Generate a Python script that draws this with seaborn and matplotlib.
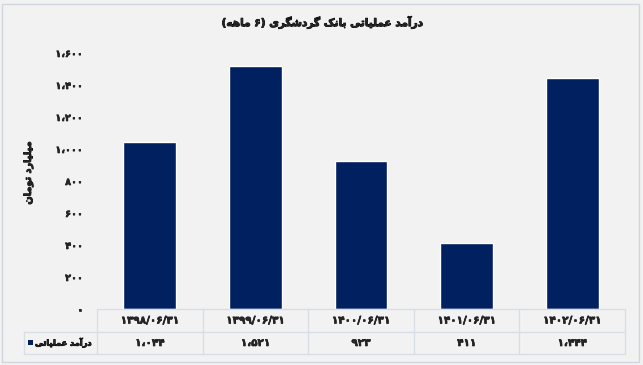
import numpy as np
import pandas as pd
import seaborn as sns
import matplotlib
matplotlib.use("Agg")
import matplotlib.pyplot as plt
import matplotlib.patheffects as pe
from matplotlib.patches import Rectangle
from matplotlib.lines import Line2D
from matplotlib.transforms import blended_transform_factory

# ---------------- data ----------------
categories = ["۱۳۹۸/۰۶/۳۱", "۱۳۹۹/۰۶/۳۱", "۱۴۰۰/۰۶/۳۱", "۱۴۰۱/۰۶/۳۱", "۱۴۰۲/۰۶/۳۱"]
values = [1044, 1521, 923, 411, 1444]
y_ticks = [0, 200, 400, 600, 800, 1000, 1200, 1400, 1600]
title_text = "درآمد عملیاتی بانک گردشگری (۶ ماهه)"
ylabel_text = "میلیارد تومان"
series_name = "درآمد عملیاتی"

# ---------------- helpers: Persian shaping for matplotlib ----------------
FORMS = {
    "ا": ("\uFE8D", "\uFE8E", None, None),
    "آ": ("\uFE81", "\uFE82", None, None),
    "ب": ("\uFE8F", "\uFE90", "\uFE91", "\uFE92"),
    "ت": ("\uFE95", "\uFE96", "\uFE97", "\uFE98"),
    "د": ("\uFEA9", "\uFEAA", None, None),
    "ر": ("\uFEAD", "\uFEAE", None, None),
    "ش": ("\uFEB5", "\uFEB6", "\uFEB7", "\uFEB8"),
    "ع": ("\uFEC9", "\uFECA", "\uFECB", "\uFECC"),
    "ل": ("\uFEDD", "\uFEDE", "\uFEDF", "\uFEE0"),
    "م": ("\uFEE1", "\uFEE2", "\uFEE3", "\uFEE4"),
    "ن": ("\uFEE5", "\uFEE6", "\uFEE7", "\uFEE8"),
    "ه": ("\uFEE9", "\uFEEA", "\uFEEB", "\uFEEC"),
    "و": ("\uFEED", "\uFEEE", None, None),
    "ی": ("\uFBFC", "\uFBFD", "\uFBFE", "\uFBFF"),
    "ک": ("\uFB8E", "\uFB8F", "\uFB90", "\uFB91"),
    "گ": ("\uFB92", "\uFB93", "\uFB94", "\uFB95"),
}
MIRROR = {"(": ")", ")": "("}
FA_DIGITS = "۰۱۲۳۴۵۶۷۸۹"


def shape(text):
    out = []
    n = len(text)
    for i, ch in enumerate(text):
        if ch not in FORMS:
            out.append(ch)
            continue
        iso, fin, ini, med = FORMS[ch]
        prev = text[i - 1] if i > 0 else ""
        nxt = text[i + 1] if i < n - 1 else ""
        pj = prev in FORMS and FORMS[prev][2] is not None
        nj = nxt in FORMS and ini is not None
        if pj and nj:
            out.append(med)
        elif pj:
            out.append(fin)
        elif nj:
            out.append(ini)
        else:
            out.append(iso)
    vis = "".join(MIRROR.get(c, c) for c in reversed(out))
    res, run = [], []
    for c in vis:
        if c in FA_DIGITS:
            run.append(c)
        else:
            res.extend(reversed(run)); run = []
            res.append(c)
    res.extend(reversed(run))
    return "".join(res)


def fa_num(v):
    s = f"{v:,}"
    return "".join(FA_DIGITS[int(c)] if c.isdigit() else ("،" if c == "," else c) for c in s)


# ---------------- figure ----------------
sns.set_style("white")
plt.rcParams["font.family"] = ["DejaVu Sans"]

W, H = 643, 365
BG = "#f2f2f2"
LINE = "#d9dee6"
BAR = "#002060"
BOLD = [pe.withStroke(linewidth=0.6, foreground="black")]
BOLD_S = [pe.withStroke(linewidth=0.4, foreground="black")]

fig = plt.figure(figsize=(W / 100, H / 100), dpi=100, facecolor=BG)
fig.patches.append(Rectangle((2 / W, 3 / H), 637 / W, 358 / H, transform=fig.transFigure,
                             facecolor="none", edgecolor="#cfd6df", linewidth=1))

ax_l, ax_r, ax_t, ax_b = 97, 625, 53, 309
ax = fig.add_axes([ax_l / W, 1 - ax_b / H, (ax_r - ax_l) / W, (ax_b - ax_t) / H])
ax.set_facecolor(BG)

df = pd.DataFrame({"cat": categories, "val": values})
sns.barplot(data=df, x="cat", y="val", color=BAR, width=0.5, saturation=1, ax=ax)
ax.set_xlim(-0.5, len(categories) - 0.5)
ax.set_ylim(0, 1600)
ax.set_yticks(y_ticks)
ax.set_yticklabels([fa_num(t) for t in y_ticks], fontsize=7, fontweight="bold")
for t in ax.get_yticklabels():
    t.set_path_effects(BOLD_S)
ax.tick_params(axis="y", length=0, pad=10)
ax.set_xticks([])
ax.set_xlabel("")
ax.set_ylabel("")
for s in ax.spines.values():
    s.set_visible(False)

fig.text(0.5, 1 - 22 / H, shape(title_text), ha="center", va="center",
         fontsize=7.6, fontweight="bold", path_effects=BOLD)
fig.text(28 / W, 1 - 173 / H, shape(ylabel_text), ha="center", va="center",
         rotation=90, fontsize=7, fontweight="bold", path_effects=BOLD)

# ---------------- data table ----------------
bt = blended_transform_factory(ax.transData, fig.transFigure)
fy = lambda py: 1 - py / H
row1_top, row1_bot, row2_bot = 309, 332, 354
tbl_left = 24
lines = [
    Line2D([ax_l / W, ax_r / W], [fy(row1_top)] * 2, transform=fig.transFigure),
    Line2D([tbl_left / W, ax_r / W], [fy(row1_bot)] * 2, transform=fig.transFigure),
    Line2D([tbl_left / W, ax_r / W], [fy(row2_bot)] * 2, transform=fig.transFigure),
    Line2D([tbl_left / W] * 2, [fy(row1_bot), fy(row2_bot)], transform=fig.transFigure),
]
for b in np.arange(len(categories) + 1) - 0.5:
    lines.append(Line2D([b, b], [fy(row1_top), fy(row2_bot)], transform=bt))
for ln in lines:
    ln.set_color(LINE)
    ln.set_linewidth(1)
    fig.lines.append(ln)

for i, (c, v) in enumerate(zip(categories, values)):
    fig.text(i, fy((row1_top + row1_bot) / 2), c, transform=bt, ha="center", va="center",
             fontsize=7.5, fontweight="bold", path_effects=BOLD_S)
    fig.text(i, fy((row1_bot + row2_bot) / 2), fa_num(v), transform=bt, ha="center", va="center",
             fontsize=7.5, fontweight="bold", path_effects=BOLD_S)

fig.patches.append(Rectangle((28 / W, fy(345)), 5 / W, 5 / H, transform=fig.transFigure,
                             facecolor=BAR, edgecolor="none"))
fig.text(35 / W, fy((row1_bot + row2_bot) / 2), shape(series_name), ha="left", va="center",
         fontsize=5.9, fontweight="bold", path_effects=BOLD)

fig.savefig("out.png", dpi=100, facecolor=BG)
